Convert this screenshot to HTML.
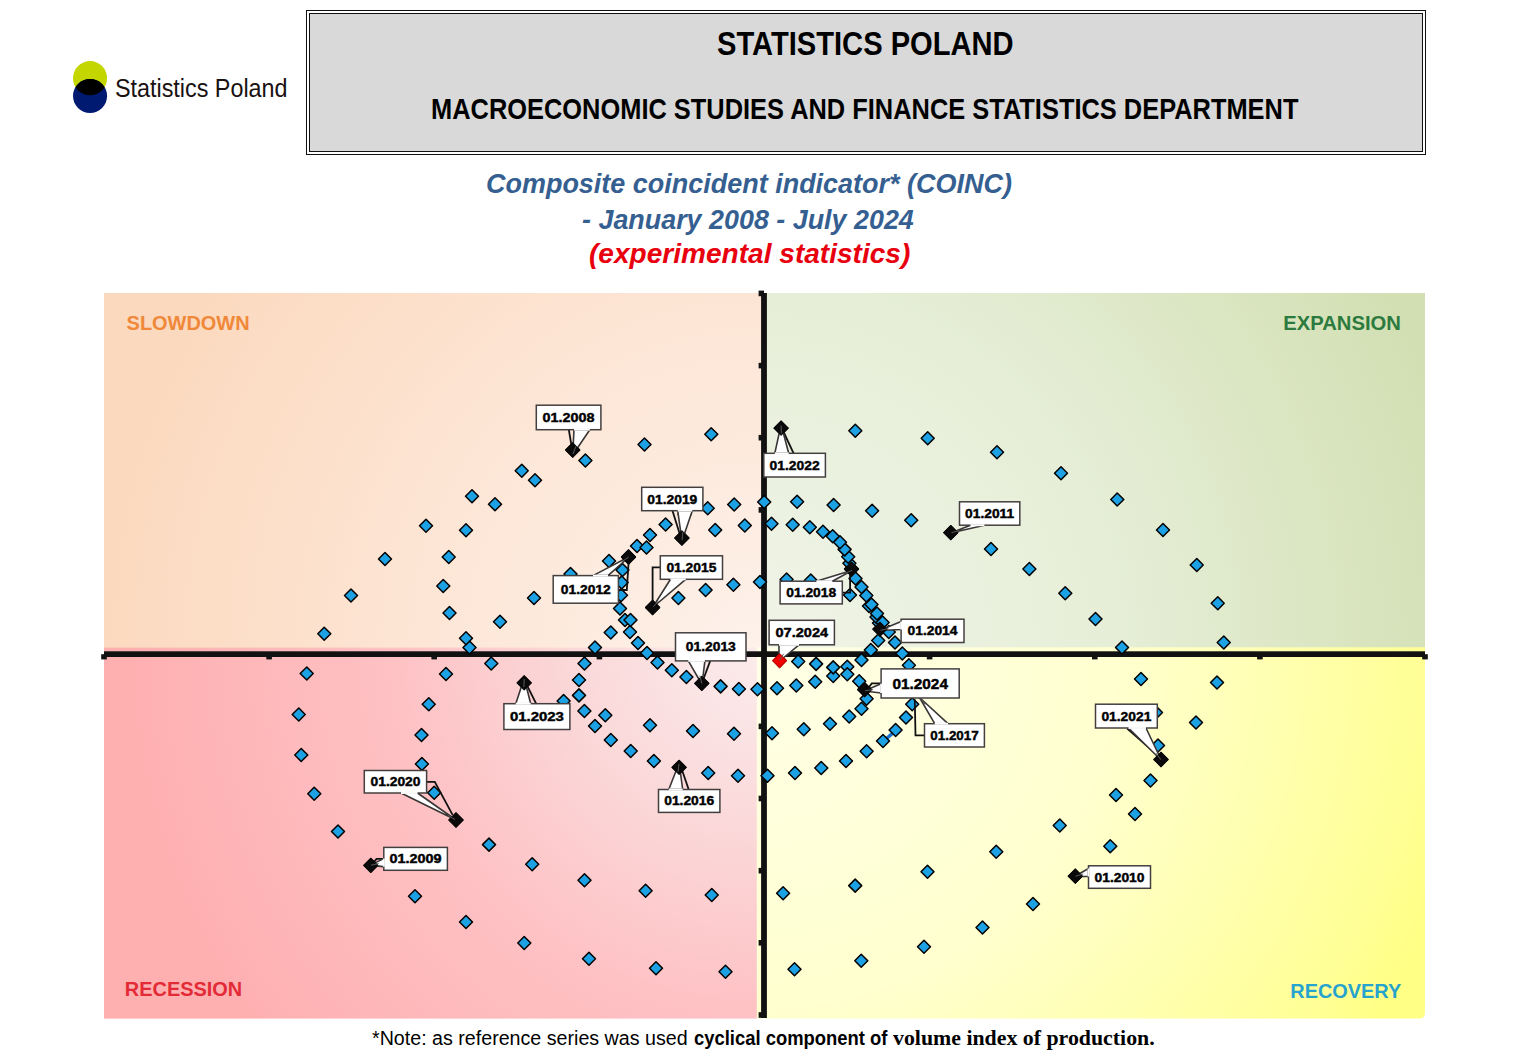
<!DOCTYPE html>
<html lang="en"><head><meta charset="utf-8"><title>Composite coincident indicator (COINC)</title>
<style>
html,body{margin:0;padding:0;background:#fff;}
body{width:1513px;height:1057px;position:relative;overflow:hidden;font-family:"Liberation Sans",sans-serif;color:#000;}
.abs{position:absolute;white-space:pre;line-height:1;}
.chart{position:absolute;left:0;top:0;}
.hdr-outer{position:absolute;left:306px;top:10px;width:1117.5px;height:142.5px;border:1.4px solid #111;background:#fff;box-sizing:content-box;}
.hdr-inner{position:absolute;left:1.6px;top:1.6px;right:1.6px;bottom:1.6px;border:1.4px solid #111;background:#d9d9d9;}
.h1{left:717.2px;top:27.6px;font-size:32.8px;font-weight:bold;transform-origin:0 0;}
.h2{left:430.6px;top:94.0px;font-size:29.8px;font-weight:bold;transform-origin:0 0;}
.logo-t{left:114.6px;top:74.7px;font-size:26.5px;transform-origin:0 0;color:#1a1111;}
.t{font-weight:bold;font-style:italic;font-size:28.2px;transform-origin:0 0;color:#365f91;}
.t3{color:#e8000e;}
.note{left:372.4px;top:1028.7px;font-size:19.4px;transform-origin:0 0;}
</style></head><body>
<svg class="abs" style="left:70px;top:58px" width="40" height="58" viewBox="70 58 40 58">
<defs><clipPath id="cg"><circle cx="90.05" cy="78.15" r="17.05"/></clipPath></defs>
<circle cx="90.05" cy="78.15" r="17.05" fill="#c4d600"/>
<circle cx="90.05" cy="95.95" r="17.05" fill="#001a72"/>
<circle cx="90.05" cy="95.95" r="17.05" fill="#000" clip-path="url(#cg)"/>
</svg>
<div class="abs logo-t" id="logot" style="transform:scaleX(0.8806);">Statistics Poland</div>
<div class="hdr-outer"><div class="hdr-inner"></div></div>
<div class="abs h1" id="h1" style="transform:scaleX(0.8879);">STATISTICS POLAND</div>
<div class="abs h2" id="h2" style="transform:scaleX(0.8530);">MACROECONOMIC STUDIES AND FINANCE STATISTICS DEPARTMENT</div>
<div class="abs t" id="t1" style="transform:scaleX(0.9567);left:485.8px;top:169.2px">Composite coincident indicator* (COINC)</div>
<div class="abs t" id="t2" style="transform:scaleX(0.9539);left:582.2px;top:204.5px">- January 2008 - July 2024</div>
<div class="abs t t3" id="t3" style="transform:scaleX(0.9956);left:589px;top:239.3px">(experimental statistics)</div>
<svg class="chart" width="1513" height="1057" viewBox="0 0 1513 1057">
<defs>
<radialGradient id="gTL" gradientUnits="userSpaceOnUse" cx="757" cy="648" r="660"><stop offset="0" stop-color="#fdf1ea"/><stop offset="0.54" stop-color="#fde5d4"/><stop offset="1" stop-color="#fbd9be"/></radialGradient>
<radialGradient id="gTR" gradientUnits="userSpaceOnUse" cx="757" cy="648" r="720"><stop offset="0" stop-color="#f0f4e8"/><stop offset="0.5" stop-color="#e6eed7"/><stop offset="0.92" stop-color="#d6e2b9"/><stop offset="1" stop-color="#d2dfb3"/></radialGradient>
<radialGradient id="gBL" gradientUnits="userSpaceOnUse" cx="757" cy="648" r="640"><stop offset="0" stop-color="#fbecec"/><stop offset="0.3" stop-color="#fbd7d8"/><stop offset="0.57" stop-color="#fec1c4"/><stop offset="1" stop-color="#feafb0"/></radialGradient>
<radialGradient id="gBR" gradientUnits="userSpaceOnUse" cx="757" cy="648" r="720"><stop offset="0" stop-color="#ffffe8"/><stop offset="0.5" stop-color="#ffffcf"/><stop offset="0.92" stop-color="#ffff96"/><stop offset="1" stop-color="#ffff86"/></radialGradient>
</defs>
<rect x="104" y="293" width="657.5" height="355" fill="url(#gTL)"/>
<rect x="761" y="293" width="664" height="355" fill="url(#gTR)"/>
<rect x="104" y="647.6" width="653" height="371" fill="url(#gBL)"/>
<path d="M756.8 647.2H1425V1012.6Q1425 1018.6 1419 1018.6H756.8Z" fill="url(#gBR)"/>
<g font-family="Liberation Sans, sans-serif" font-weight="bold" font-size="20">
<text x="126.6" y="329.8" fill="#f0883a" textLength="123" lengthAdjust="spacingAndGlyphs">SLOWDOWN</text>
<text x="1283.3" y="330" fill="#2c7a3d" textLength="117.6" lengthAdjust="spacingAndGlyphs">EXPANSION</text>
<text x="124.8" y="996.3" fill="#e32b37" textLength="117.4" lengthAdjust="spacingAndGlyphs">RECESSION</text>
<text x="1290.3" y="998" fill="#27a3cf" textLength="111" lengthAdjust="spacingAndGlyphs">RECOVERY</text>
</g>
<rect x="104" y="651.3" width="1321" height="5.7" fill="#111"/>
<rect x="761.1" y="293" width="5.8" height="725" fill="#111"/>
<rect x="101.2" y="654.2" width="5.6" height="5.2" fill="#111"/><rect x="266.3" y="654.2" width="5.6" height="5.2" fill="#111"/><rect x="431.4" y="654.2" width="5.6" height="5.2" fill="#111"/><rect x="596.6" y="654.2" width="5.6" height="5.2" fill="#111"/><rect x="926.8" y="654.2" width="5.6" height="5.2" fill="#111"/><rect x="1092.0" y="654.2" width="5.6" height="5.2" fill="#111"/><rect x="1257.1" y="654.2" width="5.6" height="5.2" fill="#111"/><rect x="1422.2" y="654.2" width="5.6" height="5.2" fill="#111"/><rect x="758.6" y="290.6" width="5.4" height="5.6" fill="#111"/><rect x="758.6" y="362.8" width="5.4" height="5.6" fill="#111"/><rect x="758.6" y="434.9" width="5.4" height="5.6" fill="#111"/><rect x="758.6" y="507.1" width="5.4" height="5.6" fill="#111"/><rect x="758.6" y="579.2" width="5.4" height="5.6" fill="#111"/><rect x="758.6" y="723.6" width="5.4" height="5.6" fill="#111"/><rect x="758.6" y="795.7" width="5.4" height="5.6" fill="#111"/><rect x="758.6" y="867.9" width="5.4" height="5.6" fill="#111"/><rect x="758.6" y="940.0" width="5.4" height="5.6" fill="#111"/><rect x="758.6" y="1012.2" width="5.4" height="5.6" fill="#111"/>
<g>
<path d="M885.5 739.5L894.5 731.5" stroke="#1a72cf" stroke-width="3.6"/>
<path d="M572.7 443.0L579.7 450.0L572.7 457.0L565.7 450.0Z" fill="#000" stroke="#000" stroke-width="1.2" stroke-linejoin="round"/>
<path d="M521.8 464.2L528.2 470.8L521.8 477.2L515.2 470.8Z" fill="#1ca2e4" stroke="#000" stroke-width="1.5" stroke-linejoin="round"/>
<path d="M472.0 489.8L478.5 496.2L472.0 502.8L465.5 496.2Z" fill="#1ca2e4" stroke="#000" stroke-width="1.5" stroke-linejoin="round"/>
<path d="M426.0 519.2L432.5 525.8L426.0 532.2L419.5 525.8Z" fill="#1ca2e4" stroke="#000" stroke-width="1.5" stroke-linejoin="round"/>
<path d="M385.0 552.5L391.5 559.0L385.0 565.5L378.5 559.0Z" fill="#1ca2e4" stroke="#000" stroke-width="1.5" stroke-linejoin="round"/>
<path d="M351.0 589.0L357.5 595.5L351.0 602.0L344.5 595.5Z" fill="#1ca2e4" stroke="#000" stroke-width="1.5" stroke-linejoin="round"/>
<path d="M324.2 627.2L330.8 633.8L324.2 640.2L317.8 633.8Z" fill="#1ca2e4" stroke="#000" stroke-width="1.5" stroke-linejoin="round"/>
<path d="M306.8 667.0L313.2 673.5L306.8 680.0L300.2 673.5Z" fill="#1ca2e4" stroke="#000" stroke-width="1.5" stroke-linejoin="round"/>
<path d="M298.8 708.0L305.2 714.5L298.8 721.0L292.2 714.5Z" fill="#1ca2e4" stroke="#000" stroke-width="1.5" stroke-linejoin="round"/>
<path d="M301.2 748.5L307.8 755.0L301.2 761.5L294.8 755.0Z" fill="#1ca2e4" stroke="#000" stroke-width="1.5" stroke-linejoin="round"/>
<path d="M314.2 787.2L320.8 793.8L314.2 800.2L307.8 793.8Z" fill="#1ca2e4" stroke="#000" stroke-width="1.5" stroke-linejoin="round"/>
<path d="M338.0 825.0L344.5 831.5L338.0 838.0L331.5 831.5Z" fill="#1ca2e4" stroke="#000" stroke-width="1.5" stroke-linejoin="round"/>
<path d="M370.8 858.3L377.8 865.3L370.8 872.3L363.8 865.3Z" fill="#000" stroke="#000" stroke-width="1.2" stroke-linejoin="round"/>
<path d="M415.0 889.8L421.5 896.2L415.0 902.8L408.5 896.2Z" fill="#1ca2e4" stroke="#000" stroke-width="1.5" stroke-linejoin="round"/>
<path d="M466.0 915.5L472.5 922.0L466.0 928.5L459.5 922.0Z" fill="#1ca2e4" stroke="#000" stroke-width="1.5" stroke-linejoin="round"/>
<path d="M524.2 936.5L530.8 943.0L524.2 949.5L517.8 943.0Z" fill="#1ca2e4" stroke="#000" stroke-width="1.5" stroke-linejoin="round"/>
<path d="M589.0 952.2L595.5 958.8L589.0 965.2L582.5 958.8Z" fill="#1ca2e4" stroke="#000" stroke-width="1.5" stroke-linejoin="round"/>
<path d="M656.0 961.8L662.5 968.2L656.0 974.8L649.5 968.2Z" fill="#1ca2e4" stroke="#000" stroke-width="1.5" stroke-linejoin="round"/>
<path d="M725.5 965.2L732.0 971.8L725.5 978.2L719.0 971.8Z" fill="#1ca2e4" stroke="#000" stroke-width="1.5" stroke-linejoin="round"/>
<path d="M794.5 962.8L801.0 969.2L794.5 975.8L788.0 969.2Z" fill="#1ca2e4" stroke="#000" stroke-width="1.5" stroke-linejoin="round"/>
<path d="M861.2 954.2L867.8 960.8L861.2 967.2L854.8 960.8Z" fill="#1ca2e4" stroke="#000" stroke-width="1.5" stroke-linejoin="round"/>
<path d="M924.0 940.2L930.5 946.8L924.0 953.2L917.5 946.8Z" fill="#1ca2e4" stroke="#000" stroke-width="1.5" stroke-linejoin="round"/>
<path d="M982.5 921.0L989.0 927.5L982.5 934.0L976.0 927.5Z" fill="#1ca2e4" stroke="#000" stroke-width="1.5" stroke-linejoin="round"/>
<path d="M1033.0 897.5L1039.5 904.0L1033.0 910.5L1026.5 904.0Z" fill="#1ca2e4" stroke="#000" stroke-width="1.5" stroke-linejoin="round"/>
<path d="M1075.3 869.2L1082.3 876.2L1075.3 883.2L1068.3 876.2Z" fill="#000" stroke="#000" stroke-width="1.2" stroke-linejoin="round"/>
<path d="M1110.2 839.8L1116.8 846.2L1110.2 852.8L1103.8 846.2Z" fill="#1ca2e4" stroke="#000" stroke-width="1.5" stroke-linejoin="round"/>
<path d="M1135.0 807.5L1141.5 814.0L1135.0 820.5L1128.5 814.0Z" fill="#1ca2e4" stroke="#000" stroke-width="1.5" stroke-linejoin="round"/>
<path d="M1150.5 774.0L1157.0 780.5L1150.5 787.0L1144.0 780.5Z" fill="#1ca2e4" stroke="#000" stroke-width="1.5" stroke-linejoin="round"/>
<path d="M1158.0 739.0L1164.5 745.5L1158.0 752.0L1151.5 745.5Z" fill="#1ca2e4" stroke="#000" stroke-width="1.5" stroke-linejoin="round"/>
<path d="M1156.0 706.0L1162.5 712.5L1156.0 719.0L1149.5 712.5Z" fill="#1ca2e4" stroke="#000" stroke-width="1.5" stroke-linejoin="round"/>
<path d="M1141.0 672.5L1147.5 679.0L1141.0 685.5L1134.5 679.0Z" fill="#1ca2e4" stroke="#000" stroke-width="1.5" stroke-linejoin="round"/>
<path d="M1122.0 641.0L1128.5 647.5L1122.0 654.0L1115.5 647.5Z" fill="#1ca2e4" stroke="#000" stroke-width="1.5" stroke-linejoin="round"/>
<path d="M1095.5 612.5L1102.0 619.0L1095.5 625.5L1089.0 619.0Z" fill="#1ca2e4" stroke="#000" stroke-width="1.5" stroke-linejoin="round"/>
<path d="M1065.2 586.8L1071.8 593.2L1065.2 599.8L1058.8 593.2Z" fill="#1ca2e4" stroke="#000" stroke-width="1.5" stroke-linejoin="round"/>
<path d="M1029.4 562.5L1035.9 569.0L1029.4 575.5L1022.9 569.0Z" fill="#1ca2e4" stroke="#000" stroke-width="1.5" stroke-linejoin="round"/>
<path d="M991.0 542.5L997.5 549.0L991.0 555.5L984.5 549.0Z" fill="#1ca2e4" stroke="#000" stroke-width="1.5" stroke-linejoin="round"/>
<path d="M950.8 525.6L957.8 532.6L950.8 539.6L943.8 532.6Z" fill="#000" stroke="#000" stroke-width="1.2" stroke-linejoin="round"/>
<path d="M911.2 513.8L917.7 520.3L911.2 526.8L904.7 520.3Z" fill="#1ca2e4" stroke="#000" stroke-width="1.5" stroke-linejoin="round"/>
<path d="M872.1 504.3L878.6 510.8L872.1 517.3L865.6 510.8Z" fill="#1ca2e4" stroke="#000" stroke-width="1.5" stroke-linejoin="round"/>
<path d="M833.6 498.5L840.1 505.0L833.6 511.5L827.1 505.0Z" fill="#1ca2e4" stroke="#000" stroke-width="1.5" stroke-linejoin="round"/>
<path d="M797.1 495.3L803.6 501.8L797.1 508.3L790.6 501.8Z" fill="#1ca2e4" stroke="#000" stroke-width="1.5" stroke-linejoin="round"/>
<path d="M764.2 495.5L770.7 502.0L764.2 508.5L757.7 502.0Z" fill="#1ca2e4" stroke="#000" stroke-width="1.5" stroke-linejoin="round"/>
<path d="M734.2 498.0L740.7 504.5L734.2 511.0L727.7 504.5Z" fill="#1ca2e4" stroke="#000" stroke-width="1.5" stroke-linejoin="round"/>
<path d="M707.7 501.8L714.2 508.3L707.7 514.8L701.2 508.3Z" fill="#1ca2e4" stroke="#000" stroke-width="1.5" stroke-linejoin="round"/>
<path d="M684.5 508.0L691.0 514.5L684.5 521.0L678.0 514.5Z" fill="#1ca2e4" stroke="#000" stroke-width="1.5" stroke-linejoin="round"/>
<path d="M665.6 518.0L672.1 524.5L665.6 531.0L659.1 524.5Z" fill="#1ca2e4" stroke="#000" stroke-width="1.5" stroke-linejoin="round"/>
<path d="M650.0 528.5L656.5 535.0L650.0 541.5L643.5 535.0Z" fill="#1ca2e4" stroke="#000" stroke-width="1.5" stroke-linejoin="round"/>
<path d="M637.0 539.5L643.5 546.0L637.0 552.5L630.5 546.0Z" fill="#1ca2e4" stroke="#000" stroke-width="1.5" stroke-linejoin="round"/>
<path d="M628.5 550.0L635.5 557.0L628.5 564.0L621.5 557.0Z" fill="#000" stroke="#000" stroke-width="1.2" stroke-linejoin="round"/>
<path d="M622.5 563.5L629.0 570.0L622.5 576.5L616.0 570.0Z" fill="#1ca2e4" stroke="#000" stroke-width="1.5" stroke-linejoin="round"/>
<path d="M621.7 576.0L628.2 582.5L621.7 589.0L615.2 582.5Z" fill="#1ca2e4" stroke="#000" stroke-width="1.5" stroke-linejoin="round"/>
<path d="M621.0 588.8L627.5 595.3L621.0 601.8L614.5 595.3Z" fill="#1ca2e4" stroke="#000" stroke-width="1.5" stroke-linejoin="round"/>
<path d="M620.0 602.0L626.5 608.5L620.0 615.0L613.5 608.5Z" fill="#1ca2e4" stroke="#000" stroke-width="1.5" stroke-linejoin="round"/>
<path d="M625.0 613.5L631.5 620.0L625.0 626.5L618.5 620.0Z" fill="#1ca2e4" stroke="#000" stroke-width="1.5" stroke-linejoin="round"/>
<path d="M630.0 625.5L636.5 632.0L630.0 638.5L623.5 632.0Z" fill="#1ca2e4" stroke="#000" stroke-width="1.5" stroke-linejoin="round"/>
<path d="M638.0 636.5L644.5 643.0L638.0 649.5L631.5 643.0Z" fill="#1ca2e4" stroke="#000" stroke-width="1.5" stroke-linejoin="round"/>
<path d="M647.0 646.5L653.5 653.0L647.0 659.5L640.5 653.0Z" fill="#1ca2e4" stroke="#000" stroke-width="1.5" stroke-linejoin="round"/>
<path d="M657.5 656.0L664.0 662.5L657.5 669.0L651.0 662.5Z" fill="#1ca2e4" stroke="#000" stroke-width="1.5" stroke-linejoin="round"/>
<path d="M671.8 663.8L678.3 670.3L671.8 676.8L665.3 670.3Z" fill="#1ca2e4" stroke="#000" stroke-width="1.5" stroke-linejoin="round"/>
<path d="M686.4 670.5L692.9 677.0L686.4 683.5L679.9 677.0Z" fill="#1ca2e4" stroke="#000" stroke-width="1.5" stroke-linejoin="round"/>
<path d="M701.8 676.3L708.8 683.3L701.8 690.3L694.8 683.3Z" fill="#000" stroke="#000" stroke-width="1.2" stroke-linejoin="round"/>
<path d="M720.6 679.9L727.1 686.4L720.6 692.9L714.1 686.4Z" fill="#1ca2e4" stroke="#000" stroke-width="1.5" stroke-linejoin="round"/>
<path d="M738.9 682.5L745.4 689.0L738.9 695.5L732.4 689.0Z" fill="#1ca2e4" stroke="#000" stroke-width="1.5" stroke-linejoin="round"/>
<path d="M757.5 682.7L764.0 689.2L757.5 695.7L751.0 689.2Z" fill="#1ca2e4" stroke="#000" stroke-width="1.5" stroke-linejoin="round"/>
<path d="M777.0 681.8L783.5 688.3L777.0 694.8L770.5 688.3Z" fill="#1ca2e4" stroke="#000" stroke-width="1.5" stroke-linejoin="round"/>
<path d="M796.3 679.0L802.8 685.5L796.3 692.0L789.8 685.5Z" fill="#1ca2e4" stroke="#000" stroke-width="1.5" stroke-linejoin="round"/>
<path d="M815.2 675.2L821.7 681.7L815.2 688.2L808.7 681.7Z" fill="#1ca2e4" stroke="#000" stroke-width="1.5" stroke-linejoin="round"/>
<path d="M833.2 669.5L839.7 676.0L833.2 682.5L826.7 676.0Z" fill="#1ca2e4" stroke="#000" stroke-width="1.5" stroke-linejoin="round"/>
<path d="M847.3 660.3L853.8 666.8L847.3 673.3L840.8 666.8Z" fill="#1ca2e4" stroke="#000" stroke-width="1.5" stroke-linejoin="round"/>
<path d="M861.5 653.5L868.0 660.0L861.5 666.5L855.0 660.0Z" fill="#1ca2e4" stroke="#000" stroke-width="1.5" stroke-linejoin="round"/>
<path d="M870.8 643.5L877.3 650.0L870.8 656.5L864.3 650.0Z" fill="#1ca2e4" stroke="#000" stroke-width="1.5" stroke-linejoin="round"/>
<path d="M878.2 634.0L884.7 640.5L878.2 647.0L871.7 640.5Z" fill="#1ca2e4" stroke="#000" stroke-width="1.5" stroke-linejoin="round"/>
<path d="M879.9 622.1L886.9 629.1L879.9 636.1L872.9 629.1Z" fill="#000" stroke="#000" stroke-width="1.2" stroke-linejoin="round"/>
<path d="M879.0 616.5L885.5 623.0L879.0 629.5L872.5 623.0Z" fill="#1ca2e4" stroke="#000" stroke-width="1.5" stroke-linejoin="round"/>
<path d="M876.5 610.5L883.0 617.0L876.5 623.5L870.0 617.0Z" fill="#1ca2e4" stroke="#000" stroke-width="1.5" stroke-linejoin="round"/>
<path d="M869.0 599.5L875.5 606.0L869.0 612.5L862.5 606.0Z" fill="#1ca2e4" stroke="#000" stroke-width="1.5" stroke-linejoin="round"/>
<path d="M850.0 588.5L856.5 595.0L850.0 601.5L843.5 595.0Z" fill="#1ca2e4" stroke="#000" stroke-width="1.5" stroke-linejoin="round"/>
<path d="M831.0 579.5L837.5 586.0L831.0 592.5L824.5 586.0Z" fill="#1ca2e4" stroke="#000" stroke-width="1.5" stroke-linejoin="round"/>
<path d="M810.8 574.0L817.3 580.5L810.8 587.0L804.3 580.5Z" fill="#1ca2e4" stroke="#000" stroke-width="1.5" stroke-linejoin="round"/>
<path d="M786.6 573.0L793.1 579.5L786.6 586.0L780.1 579.5Z" fill="#1ca2e4" stroke="#000" stroke-width="1.5" stroke-linejoin="round"/>
<path d="M760.0 575.5L766.5 582.0L760.0 588.5L753.5 582.0Z" fill="#1ca2e4" stroke="#000" stroke-width="1.5" stroke-linejoin="round"/>
<path d="M733.4 578.2L739.9 584.7L733.4 591.2L726.9 584.7Z" fill="#1ca2e4" stroke="#000" stroke-width="1.5" stroke-linejoin="round"/>
<path d="M705.6 583.5L712.1 590.0L705.6 596.5L699.1 590.0Z" fill="#1ca2e4" stroke="#000" stroke-width="1.5" stroke-linejoin="round"/>
<path d="M678.4 591.5L684.9 598.0L678.4 604.5L671.9 598.0Z" fill="#1ca2e4" stroke="#000" stroke-width="1.5" stroke-linejoin="round"/>
<path d="M652.6 600.5L659.6 607.5L652.6 614.5L645.6 607.5Z" fill="#000" stroke="#000" stroke-width="1.2" stroke-linejoin="round"/>
<path d="M630.5 613.5L637.0 620.0L630.5 626.5L624.0 620.0Z" fill="#1ca2e4" stroke="#000" stroke-width="1.5" stroke-linejoin="round"/>
<path d="M610.8 626.0L617.2 632.5L610.8 639.0L604.2 632.5Z" fill="#1ca2e4" stroke="#000" stroke-width="1.5" stroke-linejoin="round"/>
<path d="M595.0 641.0L601.5 647.5L595.0 654.0L588.5 647.5Z" fill="#1ca2e4" stroke="#000" stroke-width="1.5" stroke-linejoin="round"/>
<path d="M584.5 657.0L591.0 663.5L584.5 670.0L578.0 663.5Z" fill="#1ca2e4" stroke="#000" stroke-width="1.5" stroke-linejoin="round"/>
<path d="M579.0 673.5L585.5 680.0L579.0 686.5L572.5 680.0Z" fill="#1ca2e4" stroke="#000" stroke-width="1.5" stroke-linejoin="round"/>
<path d="M579.0 688.9L585.5 695.4L579.0 701.9L572.5 695.4Z" fill="#1ca2e4" stroke="#000" stroke-width="1.5" stroke-linejoin="round"/>
<path d="M584.4 704.5L590.9 711.0L584.4 717.5L577.9 711.0Z" fill="#1ca2e4" stroke="#000" stroke-width="1.5" stroke-linejoin="round"/>
<path d="M595.0 719.5L601.5 726.0L595.0 732.5L588.5 726.0Z" fill="#1ca2e4" stroke="#000" stroke-width="1.5" stroke-linejoin="round"/>
<path d="M610.8 733.5L617.3 740.0L610.8 746.5L604.3 740.0Z" fill="#1ca2e4" stroke="#000" stroke-width="1.5" stroke-linejoin="round"/>
<path d="M630.7 744.5L637.2 751.0L630.7 757.5L624.2 751.0Z" fill="#1ca2e4" stroke="#000" stroke-width="1.5" stroke-linejoin="round"/>
<path d="M653.9 754.5L660.4 761.0L653.9 767.5L647.4 761.0Z" fill="#1ca2e4" stroke="#000" stroke-width="1.5" stroke-linejoin="round"/>
<path d="M679.1 760.3L686.1 767.3L679.1 774.3L672.1 767.3Z" fill="#000" stroke="#000" stroke-width="1.2" stroke-linejoin="round"/>
<path d="M708.2 766.5L714.7 773.0L708.2 779.5L701.7 773.0Z" fill="#1ca2e4" stroke="#000" stroke-width="1.5" stroke-linejoin="round"/>
<path d="M738.0 769.2L744.5 775.7L738.0 782.2L731.5 775.7Z" fill="#1ca2e4" stroke="#000" stroke-width="1.5" stroke-linejoin="round"/>
<path d="M767.5 769.2L774.0 775.7L767.5 782.2L761.0 775.7Z" fill="#1ca2e4" stroke="#000" stroke-width="1.5" stroke-linejoin="round"/>
<path d="M795.0 766.5L801.5 773.0L795.0 779.5L788.5 773.0Z" fill="#1ca2e4" stroke="#000" stroke-width="1.5" stroke-linejoin="round"/>
<path d="M821.2 761.5L827.8 768.0L821.2 774.5L814.8 768.0Z" fill="#1ca2e4" stroke="#000" stroke-width="1.5" stroke-linejoin="round"/>
<path d="M846.0 754.5L852.5 761.0L846.0 767.5L839.5 761.0Z" fill="#1ca2e4" stroke="#000" stroke-width="1.5" stroke-linejoin="round"/>
<path d="M866.6 744.8L873.1 751.3L866.6 757.8L860.1 751.3Z" fill="#1ca2e4" stroke="#000" stroke-width="1.5" stroke-linejoin="round"/>
<path d="M883.0 734.5L889.5 741.0L883.0 747.5L876.5 741.0Z" fill="#1ca2e4" stroke="#000" stroke-width="1.5" stroke-linejoin="round"/>
<path d="M895.6 723.5L902.1 730.0L895.6 736.5L889.1 730.0Z" fill="#1ca2e4" stroke="#000" stroke-width="1.5" stroke-linejoin="round"/>
<path d="M906.0 711.0L912.5 717.5L906.0 724.0L899.5 717.5Z" fill="#1ca2e4" stroke="#000" stroke-width="1.5" stroke-linejoin="round"/>
<path d="M912.2 697.8L918.7 704.3L912.2 710.8L905.7 704.3Z" fill="#1ca2e4" stroke="#000" stroke-width="1.5" stroke-linejoin="round"/>
<path d="M912.5 671.5L919.0 678.0L912.5 684.5L906.0 678.0Z" fill="#1ca2e4" stroke="#000" stroke-width="1.5" stroke-linejoin="round"/>
<path d="M908.9 658.7L915.4 665.2L908.9 671.7L902.4 665.2Z" fill="#1ca2e4" stroke="#000" stroke-width="1.5" stroke-linejoin="round"/>
<path d="M902.3 647.0L908.8 653.5L902.3 660.0L895.8 653.5Z" fill="#1ca2e4" stroke="#000" stroke-width="1.5" stroke-linejoin="round"/>
<path d="M895.0 636.0L901.5 642.5L895.0 649.0L888.5 642.5Z" fill="#1ca2e4" stroke="#000" stroke-width="1.5" stroke-linejoin="round"/>
<path d="M888.8 625.5L895.3 632.0L888.8 638.5L882.3 632.0Z" fill="#1ca2e4" stroke="#000" stroke-width="1.5" stroke-linejoin="round"/>
<path d="M882.6 616.0L889.1 622.5L882.6 629.0L876.1 622.5Z" fill="#1ca2e4" stroke="#000" stroke-width="1.5" stroke-linejoin="round"/>
<path d="M877.0 607.0L883.5 613.5L877.0 620.0L870.5 613.5Z" fill="#1ca2e4" stroke="#000" stroke-width="1.5" stroke-linejoin="round"/>
<path d="M871.5 598.0L878.0 604.5L871.5 611.0L865.0 604.5Z" fill="#1ca2e4" stroke="#000" stroke-width="1.5" stroke-linejoin="round"/>
<path d="M866.3 589.0L872.8 595.5L866.3 602.0L859.8 595.5Z" fill="#1ca2e4" stroke="#000" stroke-width="1.5" stroke-linejoin="round"/>
<path d="M861.5 580.5L868.0 587.0L861.5 593.5L855.0 587.0Z" fill="#1ca2e4" stroke="#000" stroke-width="1.5" stroke-linejoin="round"/>
<path d="M855.5 572.0L862.0 578.5L855.5 585.0L849.0 578.5Z" fill="#1ca2e4" stroke="#000" stroke-width="1.5" stroke-linejoin="round"/>
<path d="M851.5 562.0L858.5 569.0L851.5 576.0L844.5 569.0Z" fill="#000" stroke="#000" stroke-width="1.2" stroke-linejoin="round"/>
<path d="M849.4 556.8L855.9 563.3L849.4 569.8L842.9 563.3Z" fill="#1ca2e4" stroke="#000" stroke-width="1.5" stroke-linejoin="round"/>
<path d="M848.2 550.3L854.7 556.8L848.2 563.3L841.7 556.8Z" fill="#1ca2e4" stroke="#000" stroke-width="1.5" stroke-linejoin="round"/>
<path d="M844.6 542.9L851.1 549.4L844.6 555.9L838.1 549.4Z" fill="#1ca2e4" stroke="#000" stroke-width="1.5" stroke-linejoin="round"/>
<path d="M840.0 535.7L846.5 542.2L840.0 548.7L833.5 542.2Z" fill="#1ca2e4" stroke="#000" stroke-width="1.5" stroke-linejoin="round"/>
<path d="M832.7 529.7L839.2 536.2L832.7 542.7L826.2 536.2Z" fill="#1ca2e4" stroke="#000" stroke-width="1.5" stroke-linejoin="round"/>
<path d="M823.0 525.2L829.5 531.7L823.0 538.2L816.5 531.7Z" fill="#1ca2e4" stroke="#000" stroke-width="1.5" stroke-linejoin="round"/>
<path d="M809.8 520.7L816.3 527.2L809.8 533.7L803.3 527.2Z" fill="#1ca2e4" stroke="#000" stroke-width="1.5" stroke-linejoin="round"/>
<path d="M792.7 518.2L799.2 524.7L792.7 531.2L786.2 524.7Z" fill="#1ca2e4" stroke="#000" stroke-width="1.5" stroke-linejoin="round"/>
<path d="M771.5 517.3L778.0 523.8L771.5 530.3L765.0 523.8Z" fill="#1ca2e4" stroke="#000" stroke-width="1.5" stroke-linejoin="round"/>
<path d="M744.8 519.0L751.3 525.5L744.8 532.0L738.3 525.5Z" fill="#1ca2e4" stroke="#000" stroke-width="1.5" stroke-linejoin="round"/>
<path d="M715.2 523.5L721.7 530.0L715.2 536.5L708.7 530.0Z" fill="#1ca2e4" stroke="#000" stroke-width="1.5" stroke-linejoin="round"/>
<path d="M681.9 531.0L688.9 538.0L681.9 545.0L674.9 538.0Z" fill="#000" stroke="#000" stroke-width="1.2" stroke-linejoin="round"/>
<path d="M646.5 541.0L653.0 547.5L646.5 554.0L640.0 547.5Z" fill="#1ca2e4" stroke="#000" stroke-width="1.5" stroke-linejoin="round"/>
<path d="M609.0 554.5L615.5 561.0L609.0 567.5L602.5 561.0Z" fill="#1ca2e4" stroke="#000" stroke-width="1.5" stroke-linejoin="round"/>
<path d="M570.5 567.5L577.0 574.0L570.5 580.5L564.0 574.0Z" fill="#1ca2e4" stroke="#000" stroke-width="1.5" stroke-linejoin="round"/>
<path d="M534.0 591.5L540.5 598.0L534.0 604.5L527.5 598.0Z" fill="#1ca2e4" stroke="#000" stroke-width="1.5" stroke-linejoin="round"/>
<path d="M500.0 615.2L506.5 621.8L500.0 628.2L493.5 621.8Z" fill="#1ca2e4" stroke="#000" stroke-width="1.5" stroke-linejoin="round"/>
<path d="M469.5 641.0L476.0 647.5L469.5 654.0L463.0 647.5Z" fill="#1ca2e4" stroke="#000" stroke-width="1.5" stroke-linejoin="round"/>
<path d="M446.0 667.5L452.5 674.0L446.0 680.5L439.5 674.0Z" fill="#1ca2e4" stroke="#000" stroke-width="1.5" stroke-linejoin="round"/>
<path d="M428.8 697.8L435.2 704.2L428.8 710.8L422.2 704.2Z" fill="#1ca2e4" stroke="#000" stroke-width="1.5" stroke-linejoin="round"/>
<path d="M421.5 728.5L428.0 735.0L421.5 741.5L415.0 735.0Z" fill="#1ca2e4" stroke="#000" stroke-width="1.5" stroke-linejoin="round"/>
<path d="M421.9 757.5L428.4 764.0L421.9 770.5L415.4 764.0Z" fill="#1ca2e4" stroke="#000" stroke-width="1.5" stroke-linejoin="round"/>
<path d="M434.2 786.3L440.7 792.8L434.2 799.3L427.7 792.8Z" fill="#1ca2e4" stroke="#000" stroke-width="1.5" stroke-linejoin="round"/>
<path d="M456.0 813.0L463.0 820.0L456.0 827.0L449.0 820.0Z" fill="#000" stroke="#000" stroke-width="1.2" stroke-linejoin="round"/>
<path d="M489.0 838.1L495.5 844.6L489.0 851.1L482.5 844.6Z" fill="#1ca2e4" stroke="#000" stroke-width="1.5" stroke-linejoin="round"/>
<path d="M532.2 857.8L538.7 864.3L532.2 870.8L525.7 864.3Z" fill="#1ca2e4" stroke="#000" stroke-width="1.5" stroke-linejoin="round"/>
<path d="M584.5 873.8L591.0 880.3L584.5 886.8L578.0 880.3Z" fill="#1ca2e4" stroke="#000" stroke-width="1.5" stroke-linejoin="round"/>
<path d="M645.6 884.2L652.1 890.8L645.6 897.2L639.1 890.8Z" fill="#1ca2e4" stroke="#000" stroke-width="1.5" stroke-linejoin="round"/>
<path d="M711.8 888.5L718.2 895.0L711.8 901.5L705.2 895.0Z" fill="#1ca2e4" stroke="#000" stroke-width="1.5" stroke-linejoin="round"/>
<path d="M783.1 886.8L789.6 893.2L783.1 899.8L776.6 893.2Z" fill="#1ca2e4" stroke="#000" stroke-width="1.5" stroke-linejoin="round"/>
<path d="M855.2 879.1L861.7 885.6L855.2 892.1L848.7 885.6Z" fill="#1ca2e4" stroke="#000" stroke-width="1.5" stroke-linejoin="round"/>
<path d="M927.5 865.2L934.0 871.8L927.5 878.2L921.0 871.8Z" fill="#1ca2e4" stroke="#000" stroke-width="1.5" stroke-linejoin="round"/>
<path d="M996.2 845.2L1002.8 851.8L996.2 858.2L989.8 851.8Z" fill="#1ca2e4" stroke="#000" stroke-width="1.5" stroke-linejoin="round"/>
<path d="M1059.8 819.0L1066.2 825.5L1059.8 832.0L1053.2 825.5Z" fill="#1ca2e4" stroke="#000" stroke-width="1.5" stroke-linejoin="round"/>
<path d="M1116.0 788.5L1122.5 795.0L1116.0 801.5L1109.5 795.0Z" fill="#1ca2e4" stroke="#000" stroke-width="1.5" stroke-linejoin="round"/>
<path d="M1161.0 752.5L1168.0 759.5L1161.0 766.5L1154.0 759.5Z" fill="#000" stroke="#000" stroke-width="1.2" stroke-linejoin="round"/>
<path d="M1196.0 716.0L1202.5 722.5L1196.0 729.0L1189.5 722.5Z" fill="#1ca2e4" stroke="#000" stroke-width="1.5" stroke-linejoin="round"/>
<path d="M1217.0 676.0L1223.5 682.5L1217.0 689.0L1210.5 682.5Z" fill="#1ca2e4" stroke="#000" stroke-width="1.5" stroke-linejoin="round"/>
<path d="M1223.8 636.0L1230.2 642.5L1223.8 649.0L1217.2 642.5Z" fill="#1ca2e4" stroke="#000" stroke-width="1.5" stroke-linejoin="round"/>
<path d="M1217.8 596.8L1224.2 603.2L1217.8 609.8L1211.2 603.2Z" fill="#1ca2e4" stroke="#000" stroke-width="1.5" stroke-linejoin="round"/>
<path d="M1196.8 558.5L1203.2 565.0L1196.8 571.5L1190.2 565.0Z" fill="#1ca2e4" stroke="#000" stroke-width="1.5" stroke-linejoin="round"/>
<path d="M1163.0 523.5L1169.5 530.0L1163.0 536.5L1156.5 530.0Z" fill="#1ca2e4" stroke="#000" stroke-width="1.5" stroke-linejoin="round"/>
<path d="M1117.2 493.0L1123.8 499.5L1117.2 506.0L1110.8 499.5Z" fill="#1ca2e4" stroke="#000" stroke-width="1.5" stroke-linejoin="round"/>
<path d="M1061.0 466.8L1067.5 473.2L1061.0 479.8L1054.5 473.2Z" fill="#1ca2e4" stroke="#000" stroke-width="1.5" stroke-linejoin="round"/>
<path d="M997.0 445.7L1003.5 452.2L997.0 458.7L990.5 452.2Z" fill="#1ca2e4" stroke="#000" stroke-width="1.5" stroke-linejoin="round"/>
<path d="M927.7 431.8L934.2 438.3L927.7 444.8L921.2 438.3Z" fill="#1ca2e4" stroke="#000" stroke-width="1.5" stroke-linejoin="round"/>
<path d="M855.3 424.2L861.8 430.7L855.3 437.2L848.8 430.7Z" fill="#1ca2e4" stroke="#000" stroke-width="1.5" stroke-linejoin="round"/>
<path d="M781.1 421.1L788.1 428.1L781.1 435.1L774.1 428.1Z" fill="#000" stroke="#000" stroke-width="1.2" stroke-linejoin="round"/>
<path d="M711.2 427.8L717.8 434.2L711.2 440.8L704.8 434.2Z" fill="#1ca2e4" stroke="#000" stroke-width="1.5" stroke-linejoin="round"/>
<path d="M644.5 438.0L651.0 444.5L644.5 451.0L638.0 444.5Z" fill="#1ca2e4" stroke="#000" stroke-width="1.5" stroke-linejoin="round"/>
<path d="M585.4 454.0L591.9 460.5L585.4 467.0L578.9 460.5Z" fill="#1ca2e4" stroke="#000" stroke-width="1.5" stroke-linejoin="round"/>
<path d="M535.0 473.8L541.5 480.2L535.0 486.8L528.5 480.2Z" fill="#1ca2e4" stroke="#000" stroke-width="1.5" stroke-linejoin="round"/>
<path d="M495.0 497.8L501.5 504.2L495.0 510.8L488.5 504.2Z" fill="#1ca2e4" stroke="#000" stroke-width="1.5" stroke-linejoin="round"/>
<path d="M466.0 523.8L472.5 530.2L466.0 536.8L459.5 530.2Z" fill="#1ca2e4" stroke="#000" stroke-width="1.5" stroke-linejoin="round"/>
<path d="M448.8 550.5L455.2 557.0L448.8 563.5L442.2 557.0Z" fill="#1ca2e4" stroke="#000" stroke-width="1.5" stroke-linejoin="round"/>
<path d="M443.2 579.5L449.8 586.0L443.2 592.5L436.8 586.0Z" fill="#1ca2e4" stroke="#000" stroke-width="1.5" stroke-linejoin="round"/>
<path d="M449.5 606.5L456.0 613.0L449.5 619.5L443.0 613.0Z" fill="#1ca2e4" stroke="#000" stroke-width="1.5" stroke-linejoin="round"/>
<path d="M466.0 631.8L472.5 638.2L466.0 644.8L459.5 638.2Z" fill="#1ca2e4" stroke="#000" stroke-width="1.5" stroke-linejoin="round"/>
<path d="M491.2 657.0L497.8 663.5L491.2 670.0L484.8 663.5Z" fill="#1ca2e4" stroke="#000" stroke-width="1.5" stroke-linejoin="round"/>
<path d="M524.2 675.9L531.2 682.9L524.2 689.9L517.2 682.9Z" fill="#000" stroke="#000" stroke-width="1.2" stroke-linejoin="round"/>
<path d="M563.6 694.5L570.1 701.0L563.6 707.5L557.1 701.0Z" fill="#1ca2e4" stroke="#000" stroke-width="1.5" stroke-linejoin="round"/>
<path d="M605.3 708.8L611.8 715.3L605.3 721.8L598.8 715.3Z" fill="#1ca2e4" stroke="#000" stroke-width="1.5" stroke-linejoin="round"/>
<path d="M650.0 718.7L656.5 725.2L650.0 731.7L643.5 725.2Z" fill="#1ca2e4" stroke="#000" stroke-width="1.5" stroke-linejoin="round"/>
<path d="M693.0 724.5L699.5 731.0L693.0 737.5L686.5 731.0Z" fill="#1ca2e4" stroke="#000" stroke-width="1.5" stroke-linejoin="round"/>
<path d="M734.0 727.3L740.5 733.8L734.0 740.3L727.5 733.8Z" fill="#1ca2e4" stroke="#000" stroke-width="1.5" stroke-linejoin="round"/>
<path d="M772.0 726.7L778.5 733.2L772.0 739.7L765.5 733.2Z" fill="#1ca2e4" stroke="#000" stroke-width="1.5" stroke-linejoin="round"/>
<path d="M803.8 722.8L810.2 729.2L803.8 735.8L797.2 729.2Z" fill="#1ca2e4" stroke="#000" stroke-width="1.5" stroke-linejoin="round"/>
<path d="M830.0 717.2L836.5 723.8L830.0 730.2L823.5 723.8Z" fill="#1ca2e4" stroke="#000" stroke-width="1.5" stroke-linejoin="round"/>
<path d="M849.2 710.0L855.7 716.5L849.2 723.0L842.7 716.5Z" fill="#1ca2e4" stroke="#000" stroke-width="1.5" stroke-linejoin="round"/>
<path d="M861.5 702.3L868.0 708.8L861.5 715.3L855.0 708.8Z" fill="#1ca2e4" stroke="#000" stroke-width="1.5" stroke-linejoin="round"/>
<path d="M866.6 692.3L873.1 698.8L866.6 705.3L860.1 698.8Z" fill="#1ca2e4" stroke="#000" stroke-width="1.5" stroke-linejoin="round"/>
<path d="M864.6 682.6L871.6 689.6L864.6 696.6L857.6 689.6Z" fill="#000" stroke="#000" stroke-width="1.2" stroke-linejoin="round"/>
<path d="M859.2 674.7L865.7 681.2L859.2 687.7L852.7 681.2Z" fill="#1ca2e4" stroke="#000" stroke-width="1.5" stroke-linejoin="round"/>
<path d="M847.3 667.7L853.8 674.2L847.3 680.7L840.8 674.2Z" fill="#1ca2e4" stroke="#000" stroke-width="1.5" stroke-linejoin="round"/>
<path d="M833.2 660.9L839.7 667.4L833.2 673.9L826.7 667.4Z" fill="#1ca2e4" stroke="#000" stroke-width="1.5" stroke-linejoin="round"/>
<path d="M816.1 657.4L822.6 663.9L816.1 670.4L809.6 663.9Z" fill="#1ca2e4" stroke="#000" stroke-width="1.5" stroke-linejoin="round"/>
<path d="M798.2 655.0L804.7 661.5L798.2 668.0L791.7 661.5Z" fill="#1ca2e4" stroke="#000" stroke-width="1.5" stroke-linejoin="round"/>
<path d="M779.6 653.9L786.4 660.7L779.6 667.5L772.8 660.7Z" fill="#f00000" stroke="#c00000" stroke-width="1.2" stroke-linejoin="round"/>
</g>
<g font-family="Liberation Sans, sans-serif" font-weight="bold" fill="#000">
<path d="M568.8 429.7L572.3 450.5" fill="none" stroke="#111" stroke-width="1.8"/>
<path d="M574.0 429.7L572.7 455.0L589.8 429.7Z" fill="#fff" stroke="#3a3636" stroke-width="1.6" stroke-linejoin="round"/>
<rect x="536.3" y="405.2" width="64.6" height="24.5" fill="#fff" stroke="#443f3f" stroke-width="1.5"/>
<path d="M574.0 429.7L589.8 429.7" stroke="#fff" stroke-width="1.9" stroke-linecap="butt" transform="translate(0,0)"/>
<text x="568.6" y="421.9" text-anchor="middle" font-size="13.3" textLength="52" lengthAdjust="spacingAndGlyphs" stroke="#000" stroke-width="0.45">01.2008</text>
<path d="M672.5 510.7L681.0 538.0" fill="none" stroke="#111" stroke-width="1.8"/>
<path d="M677.7 510.7L682.0 541.0L692.3 510.7Z" fill="#fff" stroke="#3a3636" stroke-width="1.6" stroke-linejoin="round"/>
<rect x="641.7" y="487.3" width="61.2" height="23.4" fill="#fff" stroke="#443f3f" stroke-width="1.5"/>
<path d="M677.7 510.7L692.3 510.7" stroke="#fff" stroke-width="1.9" stroke-linecap="butt" transform="translate(0,0)"/>
<text x="672.3" y="503.5" text-anchor="middle" font-size="13.3" textLength="50" lengthAdjust="spacingAndGlyphs" stroke="#000" stroke-width="0.45">01.2019</text>
<path d="M618.4 590.0L626.8 590.0L628.7 561.0" fill="none" stroke="#111" stroke-width="1.8"/>
<path d="M593.0 575.6L629.5 556.5L608.0 575.6Z" fill="#fff" stroke="#3a3636" stroke-width="1.6" stroke-linejoin="round"/>
<rect x="553.2" y="575.6" width="65.2" height="27.6" fill="#fff" stroke="#443f3f" stroke-width="1.5"/>
<path d="M593.0 575.6L608.0 575.6" stroke="#fff" stroke-width="1.9" stroke-linecap="butt" transform="translate(0,0)"/>
<text x="585.8" y="593.9" text-anchor="middle" font-size="13.3" textLength="50" lengthAdjust="spacingAndGlyphs" stroke="#000" stroke-width="0.45">01.2012</text>
<path d="M660.3 567.4L652.6 567.4L652.6 605.8" fill="none" stroke="#111" stroke-width="1.8"/>
<path d="M670.5 579.3L652.6 607.5L685.7 579.3Z" fill="#fff" stroke="#3a3636" stroke-width="1.6" stroke-linejoin="round"/>
<rect x="660.3" y="555.8" width="62.2" height="23.5" fill="#fff" stroke="#443f3f" stroke-width="1.5"/>
<path d="M670.5 579.3L685.7 579.3" stroke="#fff" stroke-width="1.9" stroke-linecap="butt" transform="translate(0,0)"/>
<text x="691.4" y="572.0" text-anchor="middle" font-size="13.3" textLength="50" lengthAdjust="spacingAndGlyphs" stroke="#000" stroke-width="0.45">01.2015</text>
<path d="M710.2 660.9L702.9 680.5" fill="none" stroke="#111" stroke-width="1.8"/>
<path d="M688.3 660.9L702.0 684.5L704.9 660.9Z" fill="#fff" stroke="#3a3636" stroke-width="1.6" stroke-linejoin="round"/>
<rect x="675.5" y="632.8" width="70.5" height="28.1" fill="#fff" stroke="#443f3f" stroke-width="1.5"/>
<path d="M688.3 660.9L704.9 660.9" stroke="#fff" stroke-width="1.9" stroke-linecap="butt" transform="translate(0,0)"/>
<text x="710.8" y="651.3" text-anchor="middle" font-size="13.3" textLength="50" lengthAdjust="spacingAndGlyphs" stroke="#000" stroke-width="0.45">01.2013</text>
<path d="M779.0 644.8L779.0 661.5L799.0 644.8Z" fill="#fff" stroke="#3a3636" stroke-width="1.6" stroke-linejoin="round"/>
<rect x="769.1" y="620.3" width="65.3" height="24.5" fill="#fff" stroke="#443f3f" stroke-width="1.5"/>
<path d="M779.0 644.8L799.0 644.8" stroke="#fff" stroke-width="1.9" stroke-linecap="butt" transform="translate(0,0)"/>
<text x="801.8" y="637.0" text-anchor="middle" font-size="13.3" textLength="52.5" lengthAdjust="spacingAndGlyphs" stroke="#000" stroke-width="0.45">07.2024</text>
<path d="M842.3 592.7L850.1 592.7L850.1 574.0" fill="none" stroke="#111" stroke-width="1.8"/>
<path d="M816.4 581.2L853.0 570.0L832.3 581.2Z" fill="#fff" stroke="#3a3636" stroke-width="1.6" stroke-linejoin="round"/>
<rect x="780.1" y="581.2" width="62.2" height="22.7" fill="#fff" stroke="#443f3f" stroke-width="1.5"/>
<path d="M816.4 581.2L832.3 581.2" stroke="#fff" stroke-width="1.9" stroke-linecap="butt" transform="translate(0,0)"/>
<text x="811.2" y="597.0" text-anchor="middle" font-size="13.3" textLength="50" lengthAdjust="spacingAndGlyphs" stroke="#000" stroke-width="0.45">01.2018</text>
<path d="M901.1 629.1L881.0 629.1" fill="none" stroke="#111" stroke-width="1.8"/>
<path d="M901.1 621.5L879.5 630.5L901.1 629.5Z" fill="#fff" stroke="#3a3636" stroke-width="1.6" stroke-linejoin="round"/>
<rect x="901.1" y="619.2" width="62.9" height="23.3" fill="#fff" stroke="#443f3f" stroke-width="1.5"/>
<path d="M901.1 621.5L901.1 629.5" stroke="#fff" stroke-width="1.9" stroke-linecap="butt" transform="translate(0,0)"/>
<text x="932.5" y="635.3" text-anchor="middle" font-size="13.3" textLength="50" lengthAdjust="spacingAndGlyphs" stroke="#000" stroke-width="0.45">01.2014</text>
<path d="M793.6 453.3L782.7 430.0" fill="none" stroke="#111" stroke-width="1.8"/>
<path d="M774.8 453.3L781.1 424.5L788.7 453.3Z" fill="#fff" stroke="#3a3636" stroke-width="1.6" stroke-linejoin="round"/>
<rect x="763.8" y="453.3" width="61.6" height="23.7" fill="#fff" stroke="#443f3f" stroke-width="1.5"/>
<path d="M774.8 453.3L788.7 453.3" stroke="#fff" stroke-width="1.9" stroke-linecap="butt" transform="translate(0,0)"/>
<text x="794.6" y="469.6" text-anchor="middle" font-size="13.3" textLength="50" lengthAdjust="spacingAndGlyphs" stroke="#000" stroke-width="0.45">01.2022</text>
<path d="M970.5 525.2L950.6 533.0L984.4 525.2Z" fill="#fff" stroke="#3a3636" stroke-width="1.6" stroke-linejoin="round"/>
<rect x="959.5" y="501.8" width="60.3" height="23.4" fill="#fff" stroke="#443f3f" stroke-width="1.5"/>
<path d="M970.5 525.2L984.4 525.2" stroke="#fff" stroke-width="1.9" stroke-linecap="butt" transform="translate(0,0)"/>
<text x="989.6" y="518.0" text-anchor="middle" font-size="13.3" textLength="49" lengthAdjust="spacingAndGlyphs" stroke="#000" stroke-width="0.45">01.2011</text>
<path d="M536.1 703.7L525.8 682.8" fill="none" stroke="#111" stroke-width="1.8"/>
<path d="M515.8 703.7L524.2 678.0L530.7 703.7Z" fill="#fff" stroke="#3a3636" stroke-width="1.6" stroke-linejoin="round"/>
<rect x="503.9" y="703.7" width="66.0" height="25.8" fill="#fff" stroke="#443f3f" stroke-width="1.5"/>
<path d="M515.8 703.7L530.7 703.7" stroke="#fff" stroke-width="1.9" stroke-linecap="butt" transform="translate(0,0)"/>
<text x="536.9" y="721.2" text-anchor="middle" font-size="13.6" textLength="54" lengthAdjust="spacingAndGlyphs" stroke="#000" stroke-width="0.45">01.2023</text>
<path d="M924.5 735.4L915.5 735.4L914.8 699.6" fill="none" stroke="#111" stroke-width="1.8"/>
<path d="M934.7 723.7L919.5 697.5L948.0 723.7Z" fill="#fff" stroke="#3a3636" stroke-width="1.6" stroke-linejoin="round"/>
<rect x="924.5" y="723.7" width="59.9" height="23.3" fill="#fff" stroke="#443f3f" stroke-width="1.5"/>
<path d="M934.7 723.7L948.0 723.7" stroke="#fff" stroke-width="1.9" stroke-linecap="butt" transform="translate(0,0)"/>
<text x="954.5" y="739.8" text-anchor="middle" font-size="13.3" textLength="48.5" lengthAdjust="spacingAndGlyphs" stroke="#000" stroke-width="0.45">01.2017</text>
<path d="M881.1 683.4L871.8 683.4L868.5 687.7" fill="none" stroke="#111" stroke-width="1.8"/>
<path d="M881.1 683.7L864.0 691.0L881.1 693.0Z" fill="#fff" stroke="#3a3636" stroke-width="1.6" stroke-linejoin="round"/>
<rect x="881.1" y="668.9" width="78.1" height="29.1" fill="#fff" stroke="#443f3f" stroke-width="1.5"/>
<path d="M881.1 683.7L881.1 693.0" stroke="#fff" stroke-width="1.9" stroke-linecap="butt" transform="translate(0,0)"/>
<text x="920.2" y="688.5" text-anchor="middle" font-size="15" textLength="55.5" lengthAdjust="spacingAndGlyphs" stroke="#000" stroke-width="0.45">01.2024</text>
<path d="M688.7 789.5L680.7 766.3" fill="none" stroke="#111" stroke-width="1.8"/>
<path d="M668.8 789.5L679.1 763.0L682.7 789.5Z" fill="#fff" stroke="#3a3636" stroke-width="1.6" stroke-linejoin="round"/>
<rect x="658.5" y="789.5" width="61.4" height="22.9" fill="#fff" stroke="#443f3f" stroke-width="1.5"/>
<path d="M668.8 789.5L682.7 789.5" stroke="#fff" stroke-width="1.9" stroke-linecap="butt" transform="translate(0,0)"/>
<text x="689.2" y="805.4" text-anchor="middle" font-size="13.3" textLength="50" lengthAdjust="spacingAndGlyphs" stroke="#000" stroke-width="0.45">01.2016</text>
<path d="M426.6 781.8L434.8 781.8L452.6 814.9" fill="none" stroke="#111" stroke-width="1.8"/>
<path d="M401.0 793.0L456.0 820.0L417.5 793.0Z" fill="#fff" stroke="#3a3636" stroke-width="1.6" stroke-linejoin="round"/>
<rect x="364.3" y="770.5" width="62.3" height="22.5" fill="#fff" stroke="#443f3f" stroke-width="1.5"/>
<path d="M401.0 793.0L417.5 793.0" stroke="#fff" stroke-width="1.9" stroke-linecap="butt" transform="translate(0,0)"/>
<text x="395.5" y="786.2" text-anchor="middle" font-size="13.3" textLength="50" lengthAdjust="spacingAndGlyphs" stroke="#000" stroke-width="0.45">01.2020</text>
<path d="M383.8 858.9L376.5 858.9L372.5 863.9" fill="none" stroke="#111" stroke-width="1.8"/>
<path d="M383.8 858.6L369.9 865.4L383.8 866.6Z" fill="#fff" stroke="#3a3636" stroke-width="1.6" stroke-linejoin="round"/>
<rect x="383.8" y="847.4" width="63.6" height="22.9" fill="#fff" stroke="#443f3f" stroke-width="1.5"/>
<path d="M383.8 858.6L383.8 866.6" stroke="#fff" stroke-width="1.9" stroke-linecap="butt" transform="translate(0,0)"/>
<text x="415.6" y="863.3" text-anchor="middle" font-size="13.3" textLength="52" lengthAdjust="spacingAndGlyphs" stroke="#000" stroke-width="0.45">01.2009</text>
<path d="M1127.2 728.5L1158.5 756.2" fill="none" stroke="#111" stroke-width="1.8"/>
<path d="M1128.5 728.0L1161.5 760.5L1146.0 728.0Z" fill="#fff" stroke="#3a3636" stroke-width="1.6" stroke-linejoin="round"/>
<rect x="1095.5" y="704.2" width="61.8" height="23.8" fill="#fff" stroke="#443f3f" stroke-width="1.5"/>
<path d="M1128.5 728.0L1146.0 728.0" stroke="#fff" stroke-width="1.9" stroke-linecap="butt" transform="translate(0,0)"/>
<text x="1126.4" y="720.6" text-anchor="middle" font-size="13.3" textLength="50" lengthAdjust="spacingAndGlyphs" stroke="#000" stroke-width="0.45">01.2021</text>
<path d="M1088.5 876.0L1079.0 876.0" fill="none" stroke="#111" stroke-width="1.8"/>
<path d="M1088.5 868.5L1074.5 876.5L1088.5 876.5Z" fill="#fff" stroke="#3a3636" stroke-width="1.6" stroke-linejoin="round"/>
<rect x="1088.5" y="865.8" width="62.0" height="22.5" fill="#fff" stroke="#443f3f" stroke-width="1.5"/>
<path d="M1088.5 868.5L1088.5 876.5" stroke="#fff" stroke-width="1.9" stroke-linecap="butt" transform="translate(0,0)"/>
<text x="1119.5" y="881.5" text-anchor="middle" font-size="13.3" textLength="50" lengthAdjust="spacingAndGlyphs" stroke="#000" stroke-width="0.45">01.2010</text>
</g>
<g><path d="M572.7 443.0L579.7 450.0L572.7 457.0L565.7 450.0Z" fill="#0a0a0a" stroke="#0a0a0a" stroke-width="1.2" stroke-linejoin="round"/>
<path d="M370.8 858.3L377.8 865.3L370.8 872.3L363.8 865.3Z" fill="#0a0a0a" stroke="#0a0a0a" stroke-width="1.2" stroke-linejoin="round"/>
<path d="M1075.3 869.2L1082.3 876.2L1075.3 883.2L1068.3 876.2Z" fill="#0a0a0a" stroke="#0a0a0a" stroke-width="1.2" stroke-linejoin="round"/>
<path d="M950.8 525.6L957.8 532.6L950.8 539.6L943.8 532.6Z" fill="#0a0a0a" stroke="#0a0a0a" stroke-width="1.2" stroke-linejoin="round"/>
<path d="M628.5 550.0L635.5 557.0L628.5 564.0L621.5 557.0Z" fill="#0a0a0a" stroke="#0a0a0a" stroke-width="1.2" stroke-linejoin="round"/>
<path d="M701.8 676.3L708.8 683.3L701.8 690.3L694.8 683.3Z" fill="#0a0a0a" stroke="#0a0a0a" stroke-width="1.2" stroke-linejoin="round"/>
<path d="M879.9 622.1L886.9 629.1L879.9 636.1L872.9 629.1Z" fill="#0a0a0a" stroke="#0a0a0a" stroke-width="1.2" stroke-linejoin="round"/>
<path d="M652.6 600.5L659.6 607.5L652.6 614.5L645.6 607.5Z" fill="#0a0a0a" stroke="#0a0a0a" stroke-width="1.2" stroke-linejoin="round"/>
<path d="M679.1 760.3L686.1 767.3L679.1 774.3L672.1 767.3Z" fill="#0a0a0a" stroke="#0a0a0a" stroke-width="1.2" stroke-linejoin="round"/>
<path d="M851.5 562.0L858.5 569.0L851.5 576.0L844.5 569.0Z" fill="#0a0a0a" stroke="#0a0a0a" stroke-width="1.2" stroke-linejoin="round"/>
<path d="M681.9 531.0L688.9 538.0L681.9 545.0L674.9 538.0Z" fill="#0a0a0a" stroke="#0a0a0a" stroke-width="1.2" stroke-linejoin="round"/>
<path d="M456.0 813.0L463.0 820.0L456.0 827.0L449.0 820.0Z" fill="#0a0a0a" stroke="#0a0a0a" stroke-width="1.2" stroke-linejoin="round"/>
<path d="M1161.0 752.5L1168.0 759.5L1161.0 766.5L1154.0 759.5Z" fill="#0a0a0a" stroke="#0a0a0a" stroke-width="1.2" stroke-linejoin="round"/>
<path d="M781.1 421.1L788.1 428.1L781.1 435.1L774.1 428.1Z" fill="#0a0a0a" stroke="#0a0a0a" stroke-width="1.2" stroke-linejoin="round"/>
<path d="M524.2 675.9L531.2 682.9L524.2 689.9L517.2 682.9Z" fill="#0a0a0a" stroke="#0a0a0a" stroke-width="1.2" stroke-linejoin="round"/>
<path d="M864.6 682.6L871.6 689.6L864.6 696.6L857.6 689.6Z" fill="#0a0a0a" stroke="#0a0a0a" stroke-width="1.2" stroke-linejoin="round"/>
<path d="M779.6 653.9L786.4 660.7L779.6 667.5L772.8 660.7Z" fill="#f00000" stroke="#c00000" stroke-width="1.2" stroke-linejoin="round"/><path d="M573.0 454.1L575.8 446.5" stroke="#5a5a5a" stroke-width="1.0"/>
<path d="M682.1 540.0L682.9 532.0" stroke="#5a5a5a" stroke-width="1.0"/>
<path d="M628.7 557.1L622.0 561.5" stroke="#5a5a5a" stroke-width="1.0"/>
<path d="M653.3 606.8L658.6 600.8" stroke="#5a5a5a" stroke-width="1.0"/>
<path d="M701.8 683.5L700.0 675.7" stroke="#5a5a5a" stroke-width="1.0"/>
<path d="M779.5 660.6L783.6 653.8" stroke="#5a5a5a" stroke-width="1.0"/>
<path d="M852.1 570.4L844.6 573.3" stroke="#5a5a5a" stroke-width="1.0"/>
<path d="M880.5 630.3L888.3 628.5" stroke="#5a5a5a" stroke-width="1.0"/>
<path d="M781.1 425.5L781.3 433.5" stroke="#5a5a5a" stroke-width="1.0"/>
<path d="M951.6 532.7L959.2 530.5" stroke="#5a5a5a" stroke-width="1.0"/>
<path d="M524.2 679.0L523.9 687.0" stroke="#5a5a5a" stroke-width="1.0"/>
<path d="M920.1 698.3L925.3 704.4" stroke="#5a5a5a" stroke-width="1.0"/>
<path d="M865.0 690.8L872.9 689.6" stroke="#5a5a5a" stroke-width="1.0"/>
<path d="M679.0 764.0L678.0 771.9" stroke="#5a5a5a" stroke-width="1.0"/>
<path d="M455.1 819.5L448.2 815.5" stroke="#5a5a5a" stroke-width="1.0"/>
<path d="M370.9 865.2L378.7 863.6" stroke="#5a5a5a" stroke-width="1.0"/>
<path d="M1160.9 759.7L1156.1 753.3" stroke="#5a5a5a" stroke-width="1.0"/>
<path d="M1075.5 876.2L1083.2 874.0" stroke="#5a5a5a" stroke-width="1.0"/></g>
</svg>
<div class="abs note" id="n1" style="transform:scaleX(1.0133);">*Note: as reference series was used </div>
<div class="abs note" id="n2" style="transform:scaleX(0.9497);left:694.4px;font-weight:bold">cyclical component of </div>
<div class="abs note" id="n3" style="transform:scaleX(1.0068);left:893px;top:1027.7px;font-weight:bold;font-family:'Liberation Serif',serif;font-size:21.7px">volume index of production.</div>
</body></html>
